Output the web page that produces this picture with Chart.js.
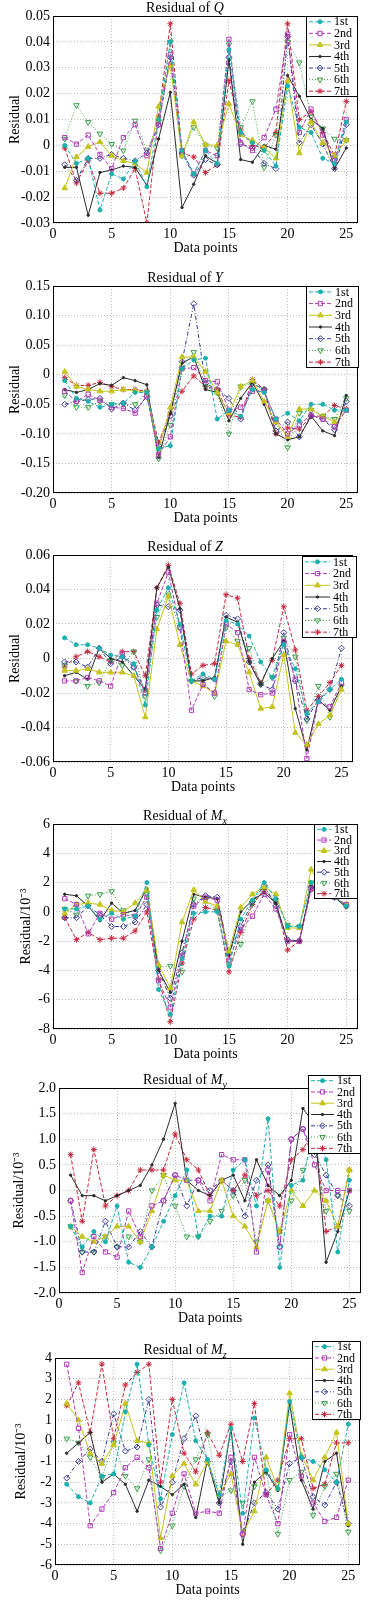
<!DOCTYPE html>
<html>
<head>
<meta charset="utf-8">
<script src="https://cdn.jsdelivr.net/npm/chart.js@4.4.1/dist/chart.umd.min.js"></script>
<style>
  html, body { margin: 0; padding: 0; background: #fff; }
  body { width: 373px; height: 1600px; position: relative; overflow: hidden; }
  canvas.panel { position: absolute; left: 0; }
</style>
</head>
<body>
<canvas id="chartQ" class="panel"></canvas>
<canvas id="chartY" class="panel"></canvas>
<canvas id="chartZ" class="panel"></canvas>
<canvas id="chartMx" class="panel"></canvas>
<canvas id="chartMy" class="panel"></canvas>
<canvas id="chartMz" class="panel"></canvas>
<script>
// x axis: data point index
const dataPoints = [1, 2, 3, 4, 5, 6, 7, 8, 9, 10, 11, 12, 13, 14, 15, 16, 17, 18, 19, 20, 21, 22, 23, 24, 25];
const xTicks = [0, 5, 10, 15, 20, 25];
const seriesNames = ['1st', '2nd', '3rd', '4th', '5th', '6th', '7th'];

// Residual of Q
const qTicks = [-0.03, -0.02, -0.01, 0, 0.01, 0.02, 0.03, 0.04, 0.05];
const qTickLabels = ['-0.03', '-0.02', '-0.01', '0', '0.01', '0.02', '0.03', '0.04', '0.05'];
const q1st = [0, -0.007, -0.005, -0.025, -0.011, -0.013, -0.006, -0.016, 0.010, 0.040, -0.002, -0.011, -0.002, -0.007, 0.037, 0.005, 0.001, -0.002, -0.008, 0.023, 0.007, 0.005, -0.005, -0.007, 0.009];
const q2nd = [0.003, 0.0005, 0.004, -0.0035, -0.009, 0.003, 0.008, -0.004, 0.008, 0.035, -0.002, -0.011, -0.002, -0.004, 0.041, 0.001, -0.002, 0.003, 0.014, 0.043, 0.005, 0.014, 0.004, -0.006, 0.010];
const q3rd = [-0.0165, -0.0045, -0.0005, 0.0013, -0.004, -0.006, -0.007, -0.0105, 0.015, 0.031, -0.004, 0.009, 0.0003, 0, 0.016, 0.004, 0.002, -0.001, -0.005, 0.025, -0.003, 0.009, 0.001, -0.004, 0.002];
const q4th = [-0.0085, -0.0085, -0.027, -0.0105, -0.0095, -0.008, -0.0085, -0.0155, 0.0025, 0.0205, -0.024, -0.015, -0.004, -0.007, 0.033, -0.0055, -0.0065, 0, -0.0015, 0.027, 0.019, 0.010, 0.0065, -0.009, -0.001];
const q5th = [-0.0075, -0.0135, -0.005, -0.005, -0.0035, -0.005, -0.006, -0.003, 0.008, 0.034, -0.003, -0.0115, -0.0055, -0.0075, 0.034, 0.0005, -0.001, -0.007, -0.009, 0.042, 0.001, 0.008, 0.0005, -0.009, 0.008];
const q6th = [0.0025, 0.0155, 0.009, 0.0045, 0.0005, -0.002, 0.0095, -0.002, 0.009, 0.040, -0.004, 0.007, 0, -0.001, 0.039, 0.007, 0.017, -0.0085, 0.004, 0.040, 0.032, 0.011, 0.0065, 0.0025, 0.002];
const q7th = [-0.001, -0.0145, -0.006, -0.0185, -0.0185, -0.0165, -0.009, -0.030, 0.011, 0.047, -0.003, -0.0045, -0.0105, -0.0075, 0.025, 0.006, 0, -0.001, 0.005, 0.047, 0.010, 0.013, 0.005, -0.004, 0.017];

// Residual of Y
const yTicks = [-0.20, -0.15, -0.10, -0.05, 0, 0.05, 0.10, 0.15];
const yTickLabels = ['-0.20', '-0.15', '-0.10', '-0.05', '0', '0.05', '0.10', '0.15'];
const y1st = [-0.010, -0.040, -0.045, -0.055, -0.050, -0.048, -0.030, -0.030, -0.125, -0.120, 0.010, 0.025, 0.028, -0.075, -0.060, -0.070, -0.025, -0.030, -0.075, -0.065, -0.078, -0.050, -0.050, -0.060, -0.060];
const y2nd = [-0.028, -0.045, -0.033, -0.043, -0.055, -0.057, -0.065, -0.035, -0.135, -0.105, 0.010, 0.012, -0.010, -0.012, -0.060, -0.055, -0.028, -0.028, -0.075, -0.100, -0.085, -0.068, -0.075, -0.088, -0.060];
const y3rd = [0.005, -0.020, -0.025, -0.028, -0.028, -0.025, -0.027, -0.030, -0.125, -0.055, 0.030, 0.030, 0.005, -0.030, -0.065, -0.020, -0.010, -0.045, -0.080, -0.105, -0.058, -0.058, -0.070, -0.080, -0.060];
const y4th = [-0.025, -0.030, -0.025, -0.015, -0.018, -0.005, -0.010, -0.017, -0.140, -0.065, 0.020, 0.030, -0.025, -0.030, -0.078, -0.040, -0.013, -0.050, -0.100, -0.110, -0.105, -0.070, -0.095, -0.103, -0.035];
const y5th = [-0.050, -0.045, -0.042, -0.040, -0.058, -0.048, -0.060, -0.037, -0.120, -0.070, 0.022, 0.120, -0.015, -0.025, -0.040, -0.075, -0.015, -0.025, -0.095, -0.080, -0.105, -0.070, -0.075, -0.093, -0.045];
const y6th = [-0.035, -0.055, -0.055, -0.045, -0.050, -0.050, -0.050, -0.030, -0.142, -0.085, 0.012, 0.038, -0.020, -0.030, -0.100, -0.020, -0.015, -0.025, -0.080, -0.123, -0.065, -0.060, -0.070, -0.075, -0.040];
const y7th = [-0.005, -0.018, -0.018, -0.013, -0.020, -0.025, -0.025, -0.028, -0.115, -0.065, -0.028, -0.002, -0.020, -0.025, -0.068, -0.072, -0.008, -0.025, -0.100, -0.090, -0.092, -0.070, -0.070, -0.052, -0.058];

// Residual of Z
const zTicks = [-0.06, -0.04, -0.02, 0, 0.02, 0.04, 0.06];
const zTickLabels = ['-0.06', '-0.04', '-0.02', '0', '0.02', '0.04', '0.06'];
const z1st = [0.012, 0.008, 0.008, 0.006, 0.002, 0.001, -0.003, -0.027, 0.028, 0.041, 0.020, -0.013, -0.009, -0.012, 0.022, 0.020, 0.013, -0.002, -0.011, 0.008, -0.006, -0.032, -0.025, -0.018, -0.012];
const z2nd = [-0.013, -0.013, -0.011, -0.013, -0.016, 0.003, -0.005, -0.020, 0.032, 0.050, 0.018, -0.030, -0.015, -0.020, 0.020, 0.015, -0.018, -0.021, -0.020, 0.010, -0.012, -0.058, -0.025, -0.028, -0.014];
const z3rd = [-0.007, -0.007, -0.006, -0.008, -0.008, -0.008, -0.010, -0.034, 0.017, 0.036, 0.008, -0.013, -0.016, -0.020, 0.010, 0.008, -0.008, -0.029, -0.028, 0.002, -0.043, -0.050, -0.038, -0.033, -0.018];
const z4th = [-0.010, -0.008, -0.012, 0.006, 0, -0.002, -0.010, -0.018, 0.041, 0.053, 0.029, -0.013, -0.013, -0.011, 0.024, 0.021, -0.002, -0.015, 0, 0.010, -0.029, -0.053, -0.024, -0.030, -0.016];
const z5th = [-0.002, -0.002, -0.005, 0.006, -0.003, 0.001, -0.005, -0.018, 0.031, 0.030, 0.028, -0.013, -0.011, -0.012, 0.025, 0.023, -0.002, -0.015, -0.018, 0.015, -0.013, -0.035, -0.024, -0.018, 0.006];
const z6th = [-0.004, -0.013, -0.016, -0.014, -0.001, -0.004, 0.004, -0.022, 0.024, 0.037, 0.018, -0.013, -0.013, -0.022, 0.018, 0.010, 0.006, -0.015, -0.011, 0.012, 0.001, -0.036, -0.016, -0.034, -0.016];
const z7th = [-0.005, 0.001, 0.004, 0.001, -0.002, 0.004, 0.004, -0.010, 0.041, 0.054, 0.032, -0.009, -0.004, -0.003, 0.037, 0.035, 0, -0.014, -0.001, 0.030, 0.005, -0.030, -0.022, -0.014, -0.004];

// Residual of Mx (x10^-3)
const mxTicks = [-8, -6, -4, -2, 0, 2, 4, 6];
const mxTickLabels = ['-8', '-6', '-4', '-2', '0', '2', '4', '6'];
const mx1st = [0.2, 0.2, 0.4, -0.5, -0.1, -0.5, -0.3, 2.0, -5.3, -7.0, -3.2, -0.1, 0, 0, -3.7, -0.5, 0.8, 2.0, 0.9, -1.0, -1.0, 2.0, 1.5, 1.0, 0.4];
const mx2nd = [0.9, 0.5, -1.5, -0.1, -0.5, -0.2, -0.3, 1.0, -4.7, -6.5, -3.0, 0.4, 1.0, 0.8, -3.3, -1.2, -0.3, 1.2, 0.2, -2.0, -2.0, 1.6, 1.3, 1.0, 0.5];
const mx3rd = [-0.1, 0.5, 0.6, 0.5, 0.1, 0, 0.6, 1.5, -3.6, -5.2, -0.7, 1.5, 0.7, 0.4, -2.7, 0.3, 1.2, 1.7, 1.2, -1.1, -1.1, 2.9, 1.5, 1.0, 0.5];
const mx4th = [1.2, 1.1, 0.4, -0.6, 0.6, -0.1, 0.1, 1.6, -4.0, -5.5, -2.0, 1.2, 1.0, 0.9, -3.0, 0, 0.8, 1.3, 0.6, -2.0, -2.0, 1.8, 1.5, 1.0, 0.3];
const mx5th = [-0.4, -0.4, 0.4, -0.2, -1.0, -1.0, -0.7, 0.5, -4.0, -5.9, -2.8, 0.5, 1.1, 1.0, -2.8, -1.0, 0.7, 1.8, 0.4, -1.9, -2.0, 1.7, 1.4, 1.0, 0.4];
const mx6th = [0.2, -0.2, 1.1, 1.2, 1.4, 0.1, -0.3, 1.2, -3.8, -3.7, -4.1, 0.9, 0.8, 0.1, -3.6, -2.2, 0.6, 1.6, 0.8, -0.9, -1.0, 2.0, 1.5, 1.0, 0.4];
const mx7th = [-0.4, -1.9, -1.4, -1.9, -1.8, -1.8, -1.3, 0, -4.6, -7.5, -3.5, -0.5, 0.3, 0.1, -4.1, -1.4, 0.5, 1.5, 0.6, -2.6, -2.0, 1.5, 1.3, 1.0, 0.4];

// Residual of My (x10^-3)
const myTicks = [-2.0, -1.5, -1.0, -0.5, 0, 0.5, 1.0, 1.5, 2.0];
const myTickLabels = ['-2.0', '-1.5', '-1.0', '-0.5', '0', '0.5', '1.0', '1.5', '2.0'];
const my1st = [-0.7, -1.1, -0.8, -1.0, -0.3, -1.4, -1.5, -1.1, -0.6, -0.1, 0.4, -0.9, -0.5, -0.5, 0.4, 0.6, -0.3, 1.4, -1.5, 0.1, 0.2, 1.3, 0.6, -1.2, 0.2];
const my2nd = [-0.2, -1.6, -0.9, -1.2, -1.3, -0.4, -0.9, -0.3, -0.2, 0.3, 0.2, 0.2, -0.2, 0.7, 0.6, 0.6, -1.2, 0.4, -1.1, 1.0, 1.2, 0.5, 0, 0, 0];
const my3rd = [-0.7, -0.9, -1.0, -0.9, -0.7, -0.7, -1.0, -0.4, 0.3, 0.2, 0.2, -0.4, -0.4, 0.2, -0.5, -0.7, -1.1, -0.2, -0.8, 0, -0.3, 0, -0.2, -0.7, 0.4];
const my4th = [0.3, -0.1, -0.1, -0.2, -0.1, 0, 0.1, 0.5, 1.0, 1.7, 0.2, 0, -0.1, 0.2, 0.3, -0.2, 0.6, 0.1, -0.1, 0.2, 1.6, 1.3, -1.4, -0.8, 0];
const my5th = [-0.2, -1.2, -1.2, -0.6, -1.1, -1.1, -0.8, -1.1, -0.2, 0.3, -0.3, 0.2, 0, 0.2, 0, -0.5, 0.2, 0.5, -1.1, 1.0, 1.2, 0.7, 0.3, -0.1, -0.3];
const my6th = [-0.7, -1.2, -1.2, -0.9, -1.1, -0.9, -1.0, 0, 0.3, -0.3, -0.9, -0.9, -0.6, -0.4, -0.1, 0.2, -1.0, -0.2, -0.8, -0.2, 0.4, 0.9, -0.4, -0.1, -0.4];
const my7th = [0.7, -0.6, 0.8, -0.3, -0.1, 0, 0.4, 0.4, 0.4, 1.1, 0.6, 0.4, -0.1, 0.2, 0, 0.3, -0.1, 0, -0.3, 0.6, 0.8, 1.2, -0.8, -0.7, 0.4];

// Residual of Mz (x10^-3)
const mzTicks = [-6, -5, -4, -3, -2, -1, 0, 1, 2, 3, 4];
const mzTickLabels = ['-6', '-5', '-4', '-3', '-2', '-1', '0', '1', '2', '3', '4'];
const mz1st = [-2.1, -2.7, -3.0, -1.7, -1.6, 1.4, 3.7, -0.2, -2.8, 0.3, 2.8, 0, -0.9, -2.6, 0.6, -3.5, 1.1, -1.4, -2.3, 1.9, -0.8, -1.0, -1.4, -2.0, 0.8];
const mz2nd = [3.7, 0.6, -4.1, -3.3, -2.5, -1.3, -0.8, -1.3, -5.2, -3.5, -1.6, -3.5, -3.4, -3.5, -0.8, -4.5, -0.8, -2.6, -4.0, 0.3, -1.7, -3.0, -3.9, -3.7, -1.9];
const mz3rd = [1.8, 1.0, -0.6, -1.1, -0.2, 1.8, 0, -0.1, -4.7, -1.7, -1.1, -2.1, -1.0, -2.6, -1.6, -4.5, -3.4, -0.8, -2.3, 2.3, -0.7, -1.9, -0.8, 0.4, -4.0];
const mz4th = [-0.6, -0.1, 0.4, -2.0, -1.6, -2.1, -3.4, -1.9, -2.2, -2.6, -2.1, -3.7, -0.9, -3.0, 0.6, -5.0, -2.0, -1.5, -2.4, 1.8, -1.9, -3.3, -1.0, -0.6, -4.1];
const mz5th = [-1.8, -1.0, -0.4, -1.0, 1.3, -0.5, -0.3, 2.0, -3.2, -2.0, 0.1, 1.2, -1.0, -3.0, -1.0, -4.5, -3.0, -2.5, -3.3, -1.1, -0.8, -2.7, -3.1, -2.0, -4.0];
const mz6th = [0.1, -0.1, -0.8, -1.8, -0.1, -1.7, -2.3, -0.9, -5.3, -4.1, -2.2, -0.9, 0.3, -2.7, -2.4, -3.0, -2.2, -1.5, -4.5, -1.9, -1.5, -3.6, -2.2, -1.6, -4.4];
const mz7th = [1.7, 2.8, 0.4, 3.7, 0.1, 2.7, 3.3, 3.7, -2.0, 2.0, -0.6, -1.5, 0.4, -0.7, 0.8, -1.0, 1.8, -2.6, -1.9, 0.1, 0.1, -2.3, -2.1, -0.1, -0.1];

// line / marker look of the seven runs (MATLAB-like)
const seriesStyles = [
    { color: '#1cb0ae', dash: [4, 2], point: 'circle', radius: 2, rotation: 0, filled: true },
    { color: '#b23cb8', dash: [4, 2], point: 'rect', radius: 3, rotation: 0, filled: false },
    { color: '#c4c41c', dash: [], point: 'triangle', radius: 3.2, rotation: 0, filled: true },
    { color: '#2b2b2b', dash: [], point: 'circle', radius: 1.2, rotation: 0, filled: true },
    { color: '#3a3a98', dash: [4, 2, 1, 2], point: 'rectRot', radius: 3, rotation: 0, filled: false },
    { color: '#38a048', dash: [1, 2], point: 'triangle', radius: 3.2, rotation: 180, filled: false },
    { color: '#c8283e', dash: [4, 2], point: 'star', radius: 3, rotation: 0, filled: true }
];

const FONT = '"Liberation Serif", "Times New Roman", serif';

const panels = [
    { id: 'chartQ', title: [['Residual of ', 'n'], ['Q', 'i']], yLabel: 'Residual',
      series: [q1st, q2nd, q3rd, q4th, q5th, q6th, q7th], ticks: qTicks, tickLabels: qTickLabels,
      box: { left: 53, right: 358, top: 16, bottom: 223 }, padTop: 16, yTitlePad: 7,
      legend: { left: 306, right: 358, dy: 0, height: 81 } },
    { id: 'chartY', title: [['Residual of ', 'n'], ['Y', 'i']], yLabel: 'Residual',
      series: [y1st, y2nd, y3rd, y4th, y5th, y6th, y7th], ticks: yTicks, tickLabels: yTickLabels,
      box: { left: 53, right: 358, top: 286, bottom: 493 }, padTop: 22, yTitlePad: 7,
      legend: { left: 306, right: 359, dy: 0, height: 82 } },
    { id: 'chartZ', title: [['Residual of ', 'n'], ['Z', 'i']], yLabel: 'Residual',
      series: [z1st, z2nd, z3rd, z4th, z5th, z6th, z7th], ticks: zTicks, tickLabels: zTickLabels,
      box: { left: 53, right: 353, top: 555, bottom: 762 }, padTop: 22, yTitlePad: 7,
      legend: { left: 302, right: 357, dy: 1, height: 82 } },
    { id: 'chartMx', title: [['Residual of ', 'n'], ['M', 'i'], ['x', 's']], yLabel: 'Residual/10\u207B\u00B3',
      series: [mx1st, mx2nd, mx3rd, mx4th, mx5th, mx6th, mx7th], ticks: mxTicks, tickLabels: mxTickLabels,
      box: { left: 53, right: 358, top: 824, bottom: 1029 }, padTop: 22, yTitlePad: 18,
      legend: { left: 314, right: 358, dy: 0, height: 75 } },
    { id: 'chartMy', title: [['Residual of ', 'n'], ['M', 'i'], ['y', 's']], yLabel: 'Residual/10\u207B\u00B3',
      series: [my1st, my2nd, my3rd, my4th, my5th, my6th, my7th], ticks: myTicks, tickLabels: myTickLabels,
      box: { left: 59, right: 361, top: 1088, bottom: 1293 }, padTop: 22, yTitlePad: 11,
      legend: { left: 308, right: 361, dy: -13, height: 79 } },
    { id: 'chartMz', title: [['Residual of ', 'n'], ['M', 'i'], ['z', 's']], yLabel: 'Residual/10\u207B\u00B3',
      series: [mz1st, mz2nd, mz3rd, mz4th, mz5th, mz6th, mz7th], ticks: mzTicks, tickLabels: mzTickLabels,
      box: { left: 55, right: 360, top: 1358, bottom: 1565 }, padTop: 22, yTitlePad: 13,
      legend: { left: 312, right: 361, dy: -17, height: 79 } }
];

const X_AXIS_HEIGHT = 34;
const TITLE_CENTER_X = 185;

// box frame, italic title and the inset legend
const panelDecor = {
    id: 'panelDecor',
    afterDraw(chart) {
        const p = chart.options.plugins.panelDecor;
        const ctx = chart.ctx;
        const a = chart.chartArea;
        ctx.save();

        // axes box
        ctx.setLineDash([]);
        ctx.strokeStyle = '#000';
        ctx.lineWidth = 1;
        ctx.strokeRect(Math.round(a.left) + 0.5, Math.round(a.top) + 0.5,
            Math.round(a.right - a.left) - 1, Math.round(a.bottom - a.top) - 1);

        // title with italic symbol
        const fontFor = kind => kind === 'i' ? 'italic 14px ' + FONT
            : kind === 's' ? 'italic 10px ' + FONT : '14px ' + FONT;
        let total = 0;
        p.title.forEach(([txt, kind]) => { ctx.font = fontFor(kind); total += ctx.measureText(txt).width; });
        let tx = TITLE_CENTER_X - total / 2;
        const ty = a.top - 9 + 5;
        ctx.fillStyle = '#000';
        ctx.textBaseline = 'alphabetic';
        ctx.textAlign = 'left';
        p.title.forEach(([txt, kind]) => {
            ctx.font = fontFor(kind);
            ctx.fillText(txt, tx, kind === 's' ? ty + 4 : ty);
            tx += ctx.measureText(txt).width;
        });

        // legend box
        const lg = p.legend;
        const top = Math.round(a.top + lg.dy);
        const w = lg.right - lg.left;
        ctx.fillStyle = '#fff';
        ctx.fillRect(lg.left, top, w, lg.height);
        ctx.strokeStyle = '#000';
        ctx.strokeRect(lg.left + 0.5, top + 0.5, w - 1, lg.height - 1);
        const rowH = lg.height / chart.data.datasets.length;
        const textX = lg.right - 24;
        chart.data.datasets.forEach((ds, i) => {
            const cy = top + rowH * (i + 0.5);
            ctx.strokeStyle = ds.borderColor;
            ctx.lineWidth = 1;
            ctx.setLineDash(ds.borderDash);
            ctx.beginPath();
            ctx.moveTo(lg.left + 3, cy);
            ctx.lineTo(textX - 3, cy);
            ctx.stroke();
            ctx.setLineDash([]);
            if (Chart.helpers && Chart.helpers.drawPoint) {
                ctx.fillStyle = ds.pointBackgroundColor;
                ctx.strokeStyle = ds.borderColor;
                Chart.helpers.drawPoint(ctx, {
                    pointStyle: ds.pointStyle, radius: ds.pointRadius,
                    rotation: ds.pointRotation, borderWidth: 1
                }, (lg.left + textX) / 2, cy);
            }
            ctx.fillStyle = '#000';
            ctx.font = '12px ' + FONT;
            ctx.textBaseline = 'middle';
            ctx.fillText(ds.label, textX, cy + 0.5);
        });
        ctx.restore();
    }
};

function buildChart(panel) {
    const canvas = document.getElementById(panel.id);
    const plotH = panel.box.bottom - panel.box.top;
    canvas.width = 373;
    canvas.height = panel.padTop + plotH + X_AXIS_HEIGHT;
    canvas.style.top = (panel.box.top - panel.padTop) + 'px';

    const datasets = panel.series.map((values, i) => {
        const st = seriesStyles[i];
        return {
            label: seriesNames[i],
            data: dataPoints.map((x, k) => ({ x: x, y: values[k] })),
            borderColor: st.color,
            borderWidth: 1,
            borderDash: st.dash,
            pointStyle: st.point,
            pointRadius: st.radius,
            pointRotation: st.rotation,
            pointBorderWidth: 1,
            pointBorderColor: st.color,
            pointBackgroundColor: st.filled ? st.color : 'rgba(255,255,255,0)',
            tension: 0,
            fill: false
        };
    });

    const gridStyle = { color: '#bdbdbd', lineWidth: 1, drawTicks: false };

    return new Chart(canvas, {
        type: 'line',
        data: { datasets },
        options: {
            responsive: false,
            animation: false,
            devicePixelRatio: 1,
            layout: { padding: { top: panel.padTop, right: 373 - panel.box.right, left: 0, bottom: 0 } },
            plugins: {
                legend: { display: false },
                tooltip: { enabled: false },
                title: { display: false },
                panelDecor: { title: panel.title, legend: panel.legend }
            },
            scales: {
                x: {
                    type: 'linear',
                    min: 0,
                    max: 26,
                    afterBuildTicks: s => { s.ticks = xTicks.map(v => ({ value: v })); },
                    afterFit: s => { s.height = X_AXIS_HEIGHT; },
                    grid: gridStyle,
                    border: { display: false, dash: [1, 2] },
                    ticks: { color: '#000', padding: 3, font: { family: FONT, size: 14 }, maxRotation: 0 },
                    title: { display: true, text: 'Data points', color: '#000',
                        font: { family: FONT, size: 14 }, padding: { top: 0, bottom: 0 } }
                },
                y: {
                    type: 'linear',
                    min: panel.ticks[0],
                    max: panel.ticks[panel.ticks.length - 1],
                    afterBuildTicks: s => { s.ticks = panel.ticks.map(v => ({ value: v })); },
                    afterFit: s => { s.width = panel.box.left; },
                    grid: gridStyle,
                    border: { display: false, dash: [1, 2] },
                    ticks: {
                        color: '#000', padding: 3, font: { family: FONT, size: 14 },
                        callback: (v, i) => panel.tickLabels[i]
                    },
                    title: { display: true, text: panel.yLabel, color: '#000',
                        font: { family: FONT, size: 14 }, padding: { top: panel.yTitlePad, bottom: 0 } }
                }
            }
        },
        plugins: [panelDecor]
    });
}

const charts = panels.map(buildChart);
</script>
</body>
</html>
